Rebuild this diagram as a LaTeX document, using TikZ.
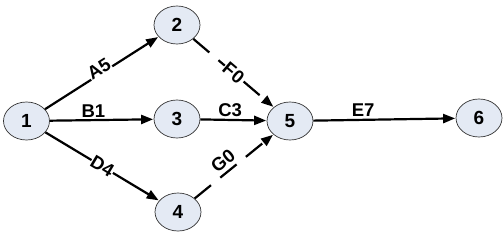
\documentclass[tikz,border=0pt]{standalone}
\usepackage{fontspec}
\setmainfont{Liberation Sans}
\usetikzlibrary{arrows.meta,shapes.geometric}
\definecolor{nodefill}{HTML}{E4EAF4}
\begin{document}
\begin{tikzpicture}[x=1pt,y=1pt,
  ev/.style={ellipse,draw=black!80,line width=0.7pt,fill=nodefill,minimum width=46pt,minimum height=38pt,inner sep=0pt,font=\fontsize{19}{19}\selectfont\bfseries},
  act/.style={line width=2.2pt,-{Triangle[length=12pt,width=9pt]},shorten >=0.5pt},
  dum/.style={act,dash pattern=on 21pt off 12pt},
  lab/.style={font=\fontsize{18.5}{19}\selectfont\bfseries,inner sep=0.5pt,fill=white}]
\useasboundingbox (0,0) rectangle (503,239);
\node[ev] (n1) at (26.5,118) {1};
\node[ev] (n2) at (177,214) {2};
\node[ev] (n3) at (177,120) {3};
\node[ev] (n4) at (178,27) {4};
\node[ev] (n5) at (290,118) {5};
\node[ev] (n6) at (479,121) {6};
\draw[act] (n1) -- node[lab,sloped,above=-3pt] {A5} (n2);
\draw[act] (n1) -- node[lab,pos=0.42,above=1pt] {B1} (n3);
\draw[act] (n1) -- node[lab,sloped] {D4} (n4);
\draw[dum] (n2) -- node[lab,sloped,pos=0.5] {F0} (n5);
\draw[act] (n3) -- node[lab,pos=0.45,above=1.5pt] {C3} (n5);
\draw[dum] (n4) -- node[lab,sloped,pos=0.45,above=3pt] {G0} (n5);
\draw[act] (n5) -- node[lab,pos=0.35,above=2pt] {E7} (n6);
\end{tikzpicture}
\end{document}
